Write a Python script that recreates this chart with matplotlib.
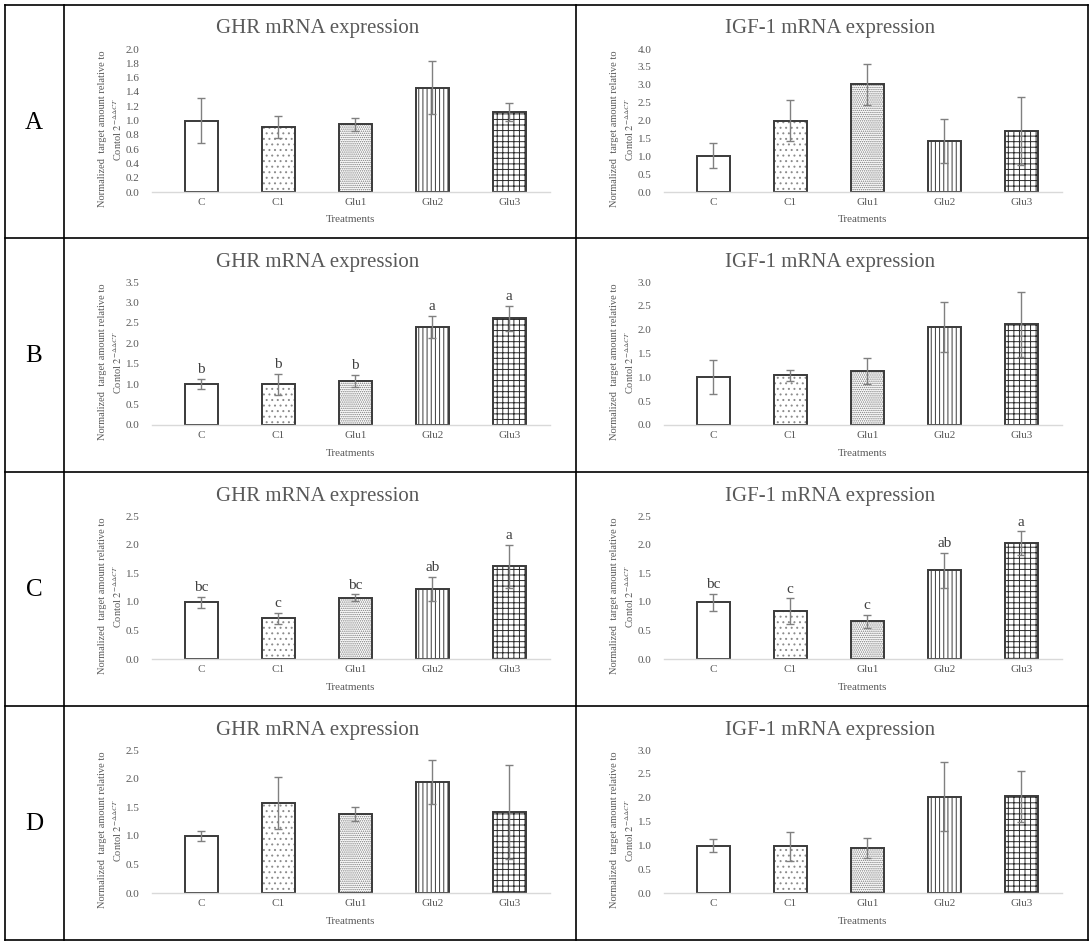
import matplotlib
matplotlib.use("Agg")
import matplotlib.pyplot as plt
from matplotlib.lines import Line2D

plt.rcParams['font.family'] = ['Liberation Serif', 'DejaVu Serif']
plt.rcParams['mathtext.fontset'] = 'stix'
plt.rcParams['hatch.linewidth'] = 0.7

# data
treatments = ['C', 'C1', 'Glu1', 'Glu2', 'Glu3']
row_labels = ['A', 'B', 'C', 'D']

ghr_mean = [
    [1.00, 0.91, 0.95, 1.46, 1.12],
    [1.00, 1.00, 1.07, 2.40, 2.61],
    [0.99, 0.71, 1.07, 1.22, 1.62],
    [1.00, 1.57, 1.38, 1.94, 1.42],
]
ghr_err = [
    [0.31, 0.15, 0.09, 0.37, 0.13],
    [0.13, 0.26, 0.15, 0.28, 0.30],
    [0.10, 0.10, 0.06, 0.21, 0.37],
    [0.09, 0.45, 0.12, 0.39, 0.82],
]
ghr_letters = [
    None,
    ['b', 'b', 'b', 'a', 'a'],
    ['bc', 'c', 'bc', 'ab', 'a'],
    None,
]
ghr_ymax = [2.0, 3.5, 2.5, 2.5]
ghr_step = [0.2, 0.5, 0.5, 0.5]

igf_mean = [
    [1.01, 2.00, 3.01, 1.42, 1.71],
    [1.01, 1.04, 1.14, 2.05, 2.11],
    [0.99, 0.84, 0.66, 1.55, 2.02],
    [0.99, 0.98, 0.94, 2.02, 2.03],
]
igf_err = [
    [0.35, 0.56, 0.57, 0.62, 0.95],
    [0.35, 0.12, 0.27, 0.52, 0.68],
    [0.15, 0.22, 0.11, 0.31, 0.21],
    [0.14, 0.30, 0.21, 0.72, 0.53],
]
igf_letters = [
    None,
    None,
    ['bc', 'c', 'c', 'ab', 'a'],
    None,
]
igf_ymax = [4.0, 3.0, 2.5, 3.0]
igf_step = [0.5, 0.5, 0.5, 0.5]

hatches = ['', '...', '........', '||||', '+++']
hatch_colors = ['white', '#8c8c8c', '#7a7a7a', '#3a3a3a', '#2a2a2a']
text_gray = '#595959'
edge = '#3a3a3a'

W, H = 1092, 947
fig = plt.figure(figsize=(W / 100, H / 100), dpi=100)
fig.patch.set_facecolor('white')


def fx(px):
    return px / W


def fy(py):
    return 1 - py / H


col_x = [64, 576]
row_y = [5, 238, 472, 706]

# table grid
for x in [5, 64, 576, 1088]:
    fig.add_artist(Line2D([fx(x), fx(x)], [fy(5), fy(940)], color='black', lw=1.2))
for y in [5, 238, 472, 706, 940]:
    fig.add_artist(Line2D([fx(5), fx(1088)], [fy(y), fy(y)], color='black', lw=1.2))


def draw_panel(x0, y0, title, means, errs, letters, ymax, step):
    ax = fig.add_axes([fx(x0 + 88), fy(y0 + 187), (486 - 88) / W, (187 - 44) / H])
    xs = list(range(len(treatments)))
    for i in xs:
        # pattern layer, then the outline on top
        ax.bar(i, means[i], width=0.43, color='white', edgecolor=hatch_colors[i],
               linewidth=0, hatch=hatches[i], zorder=2)
        ax.bar(i, means[i], width=0.43, color='none', edgecolor=edge,
               linewidth=1.4, zorder=2.5)
    ax.errorbar(xs, means, yerr=errs, fmt='none', ecolor='#808080',
                elinewidth=1.0, capsize=3, capthick=1.0, zorder=3)
    if letters:
        for i in xs:
            ax.annotate(letters[i], (i, means[i] + errs[i]), xytext=(0, 2),
                        textcoords='offset points', ha='center', va='bottom',
                        fontsize=11, color='#404040')
    ax.set_xlim(-0.64, 4.53)
    ax.set_ylim(0, ymax)
    n = int(round(ymax / step))
    ticks = [k * step for k in range(n + 1)]
    ax.set_yticks(ticks)
    ax.set_yticklabels([f'{t:.1f}' for t in ticks])
    ax.set_xticks(xs)
    ax.set_xticklabels(treatments)
    for s in ['top', 'right', 'left']:
        ax.spines[s].set_visible(False)
    ax.spines['bottom'].set_color('#d9d9d9')
    ax.spines['bottom'].set_linewidth(1.0)
    ax.tick_params(axis='y', length=0, pad=9, labelsize=8, labelcolor=text_gray)
    ax.tick_params(axis='x', length=0, pad=4, labelsize=8, labelcolor=text_gray)
    ax.patch.set_alpha(0)

    fig.text(fx(x0 + 254), fy(y0 + 24), title, ha='center', va='center',
             fontsize=15, color=text_gray)
    fig.text(fx(x0 + 47), fy(y0 + 124),
             'Normalized  target amount relative to\nContol $2^{-\\Delta\\Delta CT}$',
             ha='center', va='center', rotation=90, fontsize=7.5,
             color=text_gray, linespacing=1.3)
    fig.text(fx(x0 + 287), fy(y0 + 215), 'Treatments', ha='center', va='center',
             fontsize=8, color=text_gray)


for r in range(4):
    fig.text(fx(34), fy(row_y[r] + 118), row_labels[r], ha='center', va='center',
             fontsize=18, color='black')
    draw_panel(col_x[0], row_y[r], 'GHR mRNA expression', ghr_mean[r], ghr_err[r],
               ghr_letters[r], ghr_ymax[r], ghr_step[r])
    draw_panel(col_x[1], row_y[r], 'IGF-1 mRNA expression', igf_mean[r], igf_err[r],
               igf_letters[r], igf_ymax[r], igf_step[r])

fig.savefig('out.png', dpi=100, facecolor='white')
